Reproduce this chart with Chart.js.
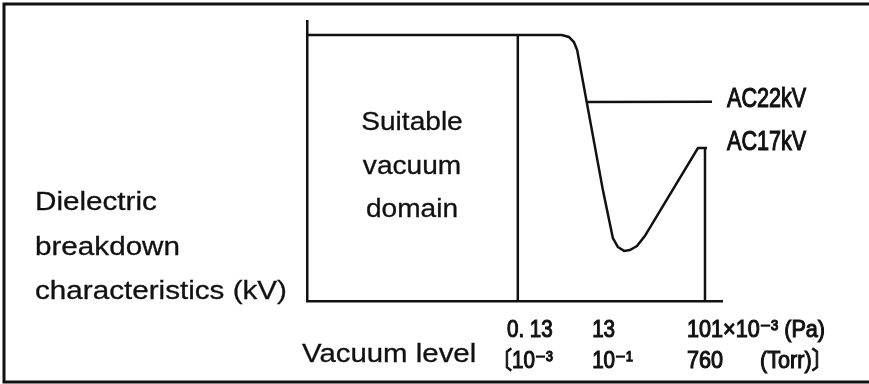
<!DOCTYPE html>
<html lang="en">

<head>
    <meta charset="UTF-8">
    <title>Vacuum level vs dielectric breakdown</title>
    <script src="https://cdn.jsdelivr.net/npm/chart.js"></script>
    <style>
        html, body { margin: 0; padding: 0; background: #fff; }
        #wrap { width: 869px; height: 384px; }
    </style>
</head>

<body>
    <div id="wrap">
        <canvas id="chart1" width="869" height="384"></canvas>
    </div>

    <script>
        // schematic curve, relative units (0-100 on both axes)
        const curveX = [0, 61.4, 63.1, 64.3, 65.1, 71.3, 73.7, 74.9, 76.4, 77.8, 79.5, 81.4, 94.2, 96.4];
        const curveY = [95.0, 95.0, 94.3, 92.5, 89.6, 39.6, 22.5, 19.3, 17.9, 18.2, 19.6, 23.2, 54.6, 54.6];

        // AC22kV branch level
        const ac22X = [67.5, 97.6];
        const ac22Y = [71.1, 71.2];

        // boundary of the suitable domain, and the atmospheric end line
        const domainEdge = 50.8;
        const atmEdge = 95.9;
        const topLevel = 95.0;
        const ac17Level = 54.6;

        // tick texts
        const paLabels = ['0. 13', '13', '101×10⁻³ (Pa)'];
        const torrLabels = ['〔10⁻³', '10⁻¹', '760'];
        const torrUnit = '(Torr)〕';
        const seriesNames = ['AC22kV', 'AC17kV'];
        const yTitle = ['Dielectric', 'breakdown', 'characteristics (kV)'];
        const domainText = ['Suitable', 'vacuum', 'domain'];
        const xTitle = 'Vacuum level';

        const toPts = (xs, ys) => xs.map((x, i) => ({ x: x, y: ys[i] }));

        const ink = '#111';
        const sansFont = '"Liberation Sans", Arial, sans-serif';
        const narrowFont = '"Liberation Sans", "DejaVu Sans", "Noto Sans CJK JP", sans-serif';

        // text with optional horizontal squeeze and a light outline for weight
        function drawText(ctx, text, x, y, font, sx, align, weight) {
            ctx.save();
            ctx.font = font;
            ctx.textAlign = align;
            ctx.textBaseline = 'middle';
            ctx.fillStyle = ink;
            ctx.strokeStyle = ink;
            ctx.translate(x, y);
            ctx.scale(sx, 1);
            ctx.fillText(text, 0, 0);
            if (weight) {
                ctx.lineWidth = weight;
                ctx.strokeText(text, 0, 0);
            }
            ctx.restore();
        }

        // white background + outer frame (top, left, bottom)
        const framePlugin = {
            id: 'frame',
            beforeDraw(chart) {
                const ctx = chart.ctx;
                ctx.save();
                ctx.fillStyle = '#fff';
                ctx.fillRect(0, 0, chart.width, chart.height);
                ctx.strokeStyle = '#111';
                ctx.lineWidth = 3;
                ctx.beginPath();
                ctx.moveTo(chart.width, 4);
                ctx.lineTo(4, 4);
                ctx.lineTo(4, 382);
                ctx.lineTo(chart.width, 382);
                ctx.stroke();
                ctx.restore();
            }
        };

        // all the text around and inside the plot
        const textPlugin = {
            id: 'texts',
            afterDraw(chart) {
                const ctx = chart.ctx;
                const xs = chart.scales.x;
                const ys = chart.scales.y;
                const sans = '26px ' + sansFont;
                const tick = '24px ' + narrowFont;
                const heavy = 1.1;

                yTitle.forEach((t, i) => drawText(ctx, t, 35, 203 + i * 44.5, sans, 1.14, 'left', 0.3));
                domainText.forEach((t, i) => drawText(ctx, t, 412, 123 + i * 43.5, sans, 1.08, 'center', 0.3));
                drawText(ctx, xTitle, 302, 355, sans, 1.13, 'left', 0.3);

                const lx = xs.getPixelForValue(ac22X[1]) + 15;
                drawText(ctx, seriesNames[0], lx, ys.getPixelForValue(ac22Y[1]) - 2, '27px ' + narrowFont, 0.8, 'left', heavy);
                drawText(ctx, seriesNames[1], lx, ys.getPixelForValue(ac17Level) - 6, '27px ' + narrowFont, 0.8, 'left', heavy);

                // tick text rows under the axis
                const edgePx = xs.getPixelForValue(domainEdge);
                const atmPx = xs.getPixelForValue(atmEdge);
                const paY = 330, torrY = 361;
                drawText(ctx, paLabels[0], edgePx + 35, paY, tick, 0.86, 'right', heavy);
                drawText(ctx, torrLabels[0], edgePx + 35, torrY, tick, 0.86, 'right', heavy);
                const midPx = xs.getPixelForValue(ac22X[0]) + 5;
                drawText(ctx, paLabels[1], midPx, paY, tick, 0.86, 'left', heavy);
                drawText(ctx, torrLabels[1], midPx, torrY, tick, 0.86, 'left', heavy);
                drawText(ctx, paLabels[2], atmPx - 18, paY, tick, 0.9, 'left', heavy);
                drawText(ctx, torrLabels[2], atmPx - 18, torrY, tick, 0.9, 'left', heavy);
                drawText(ctx, torrUnit, atmPx + 55, torrY, tick, 0.9, 'left', heavy);
            }
        };

        const lineStyle = {
            borderColor: ink,
            borderWidth: 2.5,
            pointRadius: 0,
            tension: 0,
            fill: false
        };

        new Chart(document.getElementById('chart1').getContext('2d'), {
            type: 'line',
            data: {
                datasets: [
                    Object.assign({ label: 'AC17kV', data: toPts(curveX, curveY) }, lineStyle),
                    Object.assign({ label: 'AC22kV', data: toPts(ac22X, ac22Y) }, lineStyle),
                    Object.assign({ label: 'domain', data: toPts([domainEdge, domainEdge], [0, topLevel]) }, lineStyle),
                    Object.assign({ label: 'atm', data: toPts([atmEdge, atmEdge], [0, ac17Level]) }, lineStyle)
                ]
            },
            options: {
                responsive: false,
                animation: false,
                devicePixelRatio: 1,
                layout: { padding: { left: 307, right: 147, top: 21, bottom: 83 } },
                plugins: {
                    legend: { display: false },
                    tooltip: { enabled: false }
                },
                scales: {
                    x: {
                        type: 'linear', min: 0, max: 100,
                        grid: { display: false, drawTicks: false },
                        ticks: { display: false },
                        border: { color: ink, width: 2.5 }
                    },
                    y: {
                        type: 'linear', min: 0, max: 100,
                        grid: { display: false, drawTicks: false },
                        ticks: { display: false },
                        border: { color: ink, width: 2.5 }
                    }
                }
            },
            plugins: [framePlugin, textPlugin]
        });
    </script>
</body>

</html>
